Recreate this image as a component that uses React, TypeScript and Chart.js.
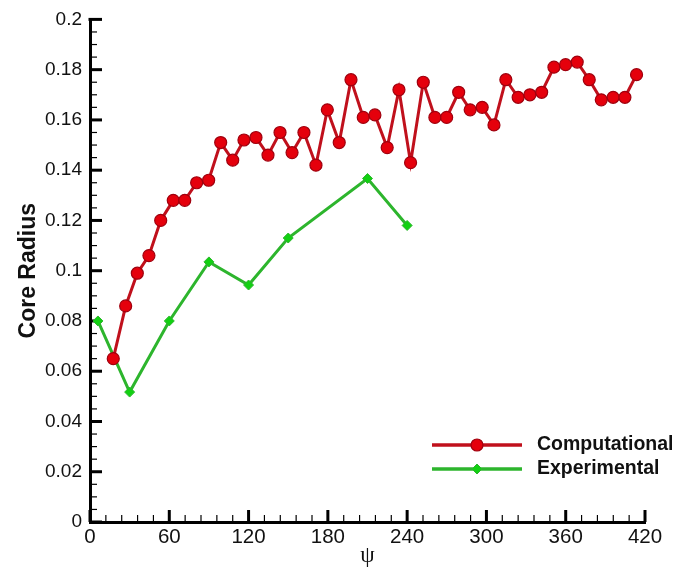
import React, { useEffect, useRef } from "react";
import { Chart, registerables } from "chart.js";

Chart.register(...registerables);

// ---- data ----
const seriesNames = ["Computational", "Experimental"];

const compPsi = [
  17.6, 27.0, 35.8, 44.6, 53.5, 63.0, 71.7, 80.7, 89.8, 98.9,
  108.0, 116.5, 125.6, 134.7, 143.8, 152.9, 161.9, 171.0, 179.6, 188.6,
  197.5, 206.8, 215.6, 224.9, 233.8, 242.6, 252.2, 261.0, 269.9, 279.0,
  287.7, 296.8, 305.7, 314.7, 324.0, 332.9, 341.8, 351.1, 359.9, 368.7,
  377.8, 386.9, 395.9, 404.8, 413.6,
];
const compRadius = [
  0.065, 0.086, 0.099, 0.106, 0.12, 0.128, 0.128, 0.135, 0.136, 0.151,
  0.144, 0.152, 0.153, 0.146, 0.155, 0.147, 0.155, 0.142, 0.164, 0.151,
  0.176, 0.161, 0.162, 0.149, 0.172, 0.143, 0.175, 0.161, 0.161, 0.171,
  0.164, 0.165, 0.158, 0.176, 0.169, 0.17, 0.171, 0.181, 0.182, 0.183,
  0.176, 0.168, 0.169, 0.169, 0.178,
];

const expPsi = [6, 30, 60, 90, 120, 150, 210, 240];
const expRadius = [0.08, 0.0517, 0.08, 0.1035, 0.0943, 0.113, 0.1367, 0.118];

const xTickValues = [0, 60, 120, 180, 240, 300, 360, 420];
const yTickValues = [0, 0.02, 0.04, 0.06, 0.08, 0.1, 0.12, 0.14, 0.16, 0.18, 0.2];
const xMinorPerMajor = 5; // 4 minor ticks between majors
const yMinorPerMajor = 4; // 3 minor ticks between majors

const xTitle = "\u03c8";
const yTitle = "Core Radius";

const RED_LINE = "#c0101c";
const RED_FILL = "#e5000c";
const RED_EDGE = "#a0000e";
const GREEN_LINE = "#2db52d";
const GREEN_FILL = "#12d012";

const tickPlugin = {
  id: "innerTicks",
  beforeDatasetsDraw(chart: any) {
    const { ctx, chartArea, scales } = chart;
    const xs = scales.x;
    const ys = scales.y;
    ctx.save();
    ctx.strokeStyle = "#000";
    for (let i = 0; i < xTickValues.length - 1; i++) {
      const a = xTickValues[i];
      const b = xTickValues[i + 1];
      for (let k = 0; k < xMinorPerMajor; k++) {
        const v = a + ((b - a) * k) / xMinorPerMajor;
        const px = xs.getPixelForValue(v);
        const major = k === 0;
        ctx.lineWidth = major ? 3 : 1.2;
        ctx.beginPath();
        ctx.moveTo(px, chartArea.bottom);
        ctx.lineTo(px, chartArea.bottom - (major ? 12 : 7));
        ctx.stroke();
      }
    }
    {
      const px = xs.getPixelForValue(xTickValues[xTickValues.length - 1]);
      ctx.lineWidth = 3;
      ctx.beginPath();
      ctx.moveTo(px, chartArea.bottom);
      ctx.lineTo(px, chartArea.bottom - 12);
      ctx.stroke();
    }
    for (let i = 0; i < yTickValues.length - 1; i++) {
      const a = yTickValues[i];
      const b = yTickValues[i + 1];
      for (let k = 0; k < yMinorPerMajor; k++) {
        const v = a + ((b - a) * k) / yMinorPerMajor;
        const py = ys.getPixelForValue(v);
        const major = k === 0;
        ctx.lineWidth = major ? 3 : 1.2;
        ctx.beginPath();
        ctx.moveTo(chartArea.left, py);
        ctx.lineTo(chartArea.left + (major ? 12 : 7), py);
        ctx.stroke();
      }
    }
    {
      const py = ys.getPixelForValue(yTickValues[yTickValues.length - 1]);
      ctx.lineWidth = 3;
      ctx.beginPath();
      ctx.moveTo(chartArea.left - 1.5, py);
      ctx.lineTo(chartArea.left + 12, py);
      ctx.stroke();
    }
    ctx.restore();
  },
};

const legendPlugin = {
  id: "customLegend",
  afterDraw(chart: any) {
    const { ctx } = chart;
    const rows = [445, 469];
    const x0 = 432;
    const x1 = 522;
    const mx = 477;
    chart.data.datasets.forEach((ds: any, i: number) => {
      const y = rows[i];
      ctx.save();
      ctx.strokeStyle = ds.borderColor;
      ctx.lineWidth = 3.5;
      ctx.beginPath();
      ctx.moveTo(x0, y);
      ctx.lineTo(x1, y);
      ctx.stroke();
      ctx.fillStyle = ds.pointBackgroundColor;
      ctx.strokeStyle = ds.pointBorderColor;
      ctx.lineWidth = ds.pointBorderWidth;
      ctx.beginPath();
      if (ds.pointStyle === "rectRot") {
        const r = ds.pointRadius;
        ctx.moveTo(mx, y - r);
        ctx.lineTo(mx + r, y);
        ctx.lineTo(mx, y + r);
        ctx.lineTo(mx - r, y);
        ctx.closePath();
      } else {
        ctx.arc(mx, y, ds.pointRadius, 0, Math.PI * 2);
      }
      ctx.fill();
      ctx.stroke();
      ctx.fillStyle = "#111";
      ctx.font = "bold 19.5px 'Liberation Sans', Arial, sans-serif";
      ctx.textBaseline = "middle";
      ctx.textAlign = "left";
      ctx.fillText(ds.label, 537, y);
      ctx.restore();
    });
  },
};

export default function App() {
  const ref = useRef<HTMLCanvasElement | null>(null);

  useEffect(() => {
    if (!ref.current) return;
    const chart = new Chart(ref.current, {
      type: "line",
      data: {
        datasets: [
          {
            label: seriesNames[0],
            data: compPsi.map((x, i) => ({ x, y: compRadius[i] })),
            borderColor: RED_LINE,
            borderWidth: 3,
            pointStyle: "circle",
            pointRadius: 6,
            pointBackgroundColor: RED_FILL,
            pointBorderColor: RED_EDGE,
            pointBorderWidth: 1.2,
            tension: 0,
          },
          {
            label: seriesNames[1],
            data: expPsi.map((x, i) => ({ x, y: expRadius[i] })),
            borderColor: GREEN_LINE,
            borderWidth: 3,
            pointStyle: "rectRot",
            pointRadius: 5,
            pointBackgroundColor: GREEN_FILL,
            pointBorderColor: GREEN_LINE,
            pointBorderWidth: 1,
            tension: 0,
          },
        ],
      },
      options: {
        animation: false,
        responsive: false,
        maintainAspectRatio: false,
        layout: { padding: { left: 0, top: 16, right: 30, bottom: 0 } },
        plugins: {
          legend: { display: false },
          tooltip: { enabled: false },
        },
        scales: {
          x: {
            type: "linear",
            min: 0,
            max: 420,
            grid: { display: false, drawTicks: false },
            border: { display: true, color: "#000", width: 3 },
            afterBuildTicks: (s: any) => {
              s.ticks = xTickValues.map((v) => ({ value: v }));
            },
            afterFit: (s: any) => {
              s.height = 52;
            },
            ticks: {
              color: "#111",
              font: { family: "'Liberation Sans', Arial, sans-serif", size: 20.5 },
              padding: 3,
              maxRotation: 0,
              autoSkip: false,
              callback: (v: any) => String(v),
            },
            title: {
              display: true,
              text: xTitle,
              color: "#111",
              font: { family: "'Liberation Serif', 'DejaVu Serif', serif", size: 23 },
              padding: { top: 0, bottom: 4 },
            },
          },
          y: {
            type: "linear",
            min: 0,
            max: 0.2,
            grid: { display: false, drawTicks: false },
            border: { display: true, color: "#000", width: 3 },
            afterBuildTicks: (s: any) => {
              s.ticks = yTickValues.map((v) => ({ value: v }));
            },
            afterFit: (s: any) => {
              s.width = 90;
            },
            ticks: {
              color: "#111",
              font: { family: "'Liberation Sans', Arial, sans-serif", size: 19 },
              padding: 8,
              autoSkip: false,
              callback: (v: any) => String(+Number(v).toFixed(3)),
            },
            title: {
              display: true,
              text: yTitle,
              color: "#111",
              font: { family: "'Liberation Sans', Arial, sans-serif", size: 23, weight: "bold" },
              padding: { top: 15, bottom: 0 },
            },
          },
        },
      },
      plugins: [tickPlugin, legendPlugin],
    } as any);
    return () => chart.destroy();
  }, []);

  return (
    <div style={{ position: "absolute", left: 0, top: 0, width: 675, height: 574, background: "#fff" }}>
      <canvas ref={ref} width={675} height={574} style={{ width: 675, height: 574, display: "block" }} />
    </div>
  );
}
